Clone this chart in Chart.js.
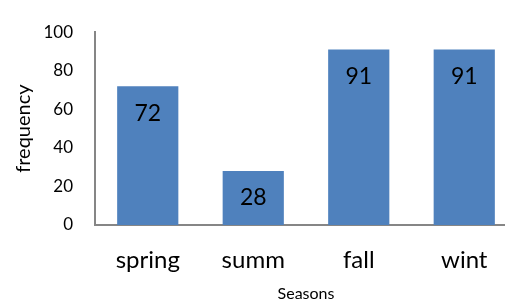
<!DOCTYPE html>
<html>
<head>
<meta charset="utf-8">
<script src="https://cdn.jsdelivr.net/npm/chart.js@4"></script>
<style>
  body { margin: 0; overflow: hidden; background: #fff; }
  #wrap { width: 505px; height: 302px; overflow: hidden; }
</style>
</head>
<body>
<div id="wrap"><canvas id="barChart" width="517" height="302"></canvas></div>
<script>
var seasons = ['spring', 'summ', 'fall', 'wint'];
var frequency = [72, 28, 91, 91];
var yTicks = [0, 20, 40, 60, 80, 100];

// draws the value inside each bar, near the top
var barValues = {
    id: 'barValues',
    afterDatasetsDraw: function (chart) {
        var ctx = chart.ctx;
        var meta = chart.getDatasetMeta(0);
        ctx.save();
        ctx.font = '23px Lato';
        ctx.fillStyle = '#000';
        ctx.textAlign = 'center';
        ctx.textBaseline = 'middle';
        meta.data.forEach(function (bar, i) {
            ctx.fillText(frequency[i], bar.x, bar.y + 27);
        });
        ctx.restore();
    }
};

var ctx = document.getElementById('barChart').getContext('2d');
var myChart = new Chart(ctx, {
    type: 'bar',
    data: {
        labels: seasons,
        datasets: [{
            label: 'frequency',
            data: frequency,
            backgroundColor: '#4F81BD',
            barPercentage: 0.58,
            categoryPercentage: 1
        }]
    },
    plugins: [barValues],
    options: {
        responsive: false,
        animation: false,
        layout: { padding: { top: 25, right: 0, left: 0, bottom: 0 } },
        plugins: {
            legend: { display: false },
            title: { display: false },
            tooltip: { enabled: false }
        },
        scales: {
            x: {
                grid: { display: false, drawTicks: false },
                border: { display: true, color: '#868686', width: 2 },
                ticks: { color: '#000', font: { family: 'Lato', size: 24 }, padding: 21, maxRotation: 0 },
                title: { display: true, text: 'Seasons', color: '#000', font: { family: 'Lato', size: 16, lineHeight: 1 }, padding: 0 },
                afterFit: function (scale) { scale.height = 77; }
            },
            y: {
                min: 0,
                max: 100,
                grid: { display: false, drawTicks: false },
                border: { display: true, color: '#868686', width: 2 },
                afterBuildTicks: function (scale) {
                    scale.ticks = yTicks.map(function (v) { return { value: v }; });
                },
                ticks: { color: '#000', font: { family: 'Lato', size: 17 }, padding: 22 },
                title: { display: true, text: 'frequency', color: '#000', font: { family: 'Lato', size: 20 }, padding: { top: 12, bottom: 0 } },
                afterFit: function (scale) { scale.width = 95; }
            }
        }
    }
});
</script>
</body>
</html>
